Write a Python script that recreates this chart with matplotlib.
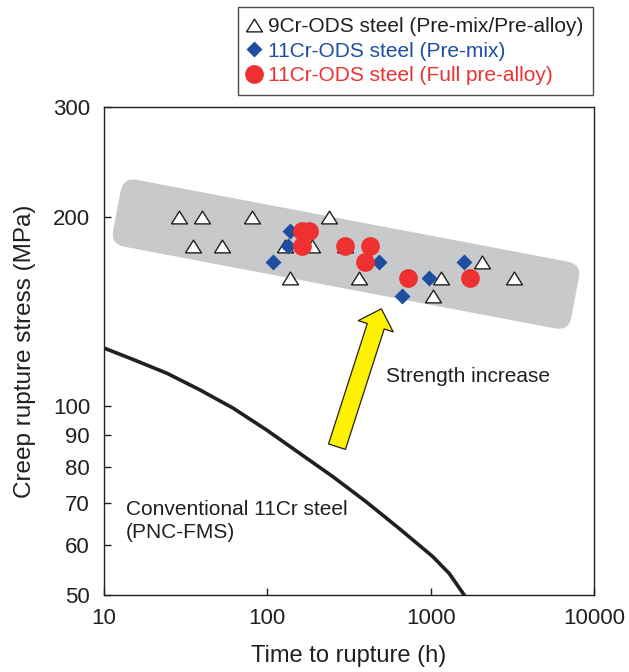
import numpy as np
import matplotlib.pyplot as plt
from matplotlib.patches import FancyBboxPatch
from matplotlib.transforms import Affine2D
from matplotlib.ticker import FixedLocator, FixedFormatter, NullLocator

plt.rcParams['font.family'] = ['Liberation Sans', 'DejaVu Sans']

# 9Cr-ODS steel (pre-mix / pre-alloy)
cr9_time = [28.7, 40, 80, 237, 35, 52.6, 128, 187, 301, 137, 366, 1160, 1040, 2065, 3245]
cr9_stress = [200, 200, 200, 200, 180, 180, 180, 180, 180, 160, 160, 160, 150, 170, 160]

# 11Cr-ODS steel (pre-mix)
cr11_mix_time = [137, 133, 108, 485, 671, 980, 1603]
cr11_mix_stress = [190, 180, 170, 170, 150, 160, 170]

# 11Cr-ODS steel (full pre-alloy)
cr11_full_time = [162, 179, 164, 301, 428, 398, 729, 1745]
cr11_full_stress = [190, 190, 180, 180, 180, 170, 160, 160]

# conventional 11Cr steel (PNC-FMS) curve
fms_time = [10, 15.1, 24.2, 38.6, 61.7, 98.6, 157, 252, 403, 643, 1028, 1300, 1604]
fms_stress = [123.8, 118.7, 112.9, 106.2, 99.3, 91.7, 84.2, 77.2, 70.4, 63.8, 57.6, 54.1, 50]

# grey band end points (time, stress) at the middle of each short side
band_time = [12.0, 7660]
band_stress = [205, 149]

yticks = [50, 60, 70, 80, 90, 100, 200, 300]
xticks = [10, 100, 1000, 10000]

fig = plt.figure(figsize=(6.29, 6.72), dpi=100)
ax = fig.add_axes([104/629, 1 - 595/672, 490/629, 488/672])
ax.set_xscale('log')
ax.set_yscale('log')
ax.set_xlim(10, 10000)
ax.set_ylim(50, 300)

ax.xaxis.set_major_locator(FixedLocator(xticks))
ax.xaxis.set_major_formatter(FixedFormatter([str(t) for t in xticks]))
ax.xaxis.set_minor_locator(NullLocator())
ax.yaxis.set_major_locator(FixedLocator(yticks))
ax.yaxis.set_major_formatter(FixedFormatter([str(t) for t in yticks]))
ax.yaxis.set_minor_locator(NullLocator())
ax.tick_params(direction='in', length=5, width=1, labelsize=16, colors='#231f20')
ax.tick_params(axis='y', pad=10)
ax.tick_params(axis='x', pad=9)
for s in ax.spines.values():
    s.set_linewidth(1.0)
    s.set_color('#231f20')

# grey band (rounded, rotated rectangle built in pixel space)
p0 = ax.transData.transform((band_time[0], band_stress[0]))
p1 = ax.transData.transform((band_time[1], band_stress[1]))
c = (p0 + p1) / 2
L = np.hypot(*(p1 - p0))
H = 68
ang = np.degrees(np.arctan2(p1[1] - p0[1], p1[0] - p0[0]))
band = FancyBboxPatch((c[0] - L/2, c[1] - H/2), L, H,
                      boxstyle="round,pad=0,rounding_size=14",
                      transform=Affine2D().rotate_deg_around(c[0], c[1], ang),
                      facecolor='#c8c9cb', edgecolor='none', zorder=0.5)
ax.add_artist(band)

ax.plot(fms_time, fms_stress, color='#231f20', lw=2.6, zorder=2)

tri = [(-1, -0.8), (1, -0.8), (0, 0.8), (-1, -0.8)]
h1, = ax.plot(cr9_time, cr9_stress, ls='none', marker=tri, ms=11.5,
              mfc='white', mec='#231f20', mew=1.0, zorder=3,
              label='9Cr-ODS steel (Pre-mix/Pre-alloy)')
h2, = ax.plot(cr11_mix_time, cr11_mix_stress, ls='none', marker='D', ms=7.8,
              mfc='#1f4ea1', mec='none', zorder=4,
              label='11Cr-ODS steel (Pre-mix)')
h3, = ax.plot(cr11_full_time, cr11_full_stress, ls='none', marker='o', ms=13.5,
              mfc='#ee3030', mec='none', zorder=5,
              label='11Cr-ODS steel (Full pre-alloy)')

ax.annotate('', xy=(499, 143), xytext=(267, 86.2),
            arrowprops=dict(arrowstyle='simple,head_length=0.66,head_width=1.32,tail_width=0.64',
                            mutation_scale=20, fc='#fff200', ec='#231f20', lw=0.9,
                            shrinkA=0, shrinkB=0), zorder=6)

ax.text(536, 109.3, 'Strength increase', fontsize=15, color='#231f20', va='baseline')
ax.text(13.6, 61.7, 'Conventional 11Cr steel\n(PNC-FMS)', fontsize=15,
        color='#231f20', va='baseline', linespacing=1.25)

ax.set_xlabel('Time to rupture (h)', fontsize=17, color='#231f20', labelpad=12)
ax.set_ylabel('Creep rupture stress (MPa)', fontsize=17.5, color='#231f20', labelpad=12)

leg = fig.legend(handles=[h1, h2, h3], loc='upper left',
                 bbox_to_anchor=(238/629, 1 - 7/672), fontsize=15,
                 frameon=True, fancybox=False, numpoints=1,
                 handlelength=0.5, handletextpad=0.42, labelspacing=0.25,
                 borderpad=0.5, borderaxespad=0)
leg.get_frame().set_edgecolor('#231f20')
leg.get_frame().set_linewidth(1.0)
for t, col in zip(leg.get_texts(), ['#231f20', '#1f4ea1', '#ee3030']):
    t.set_color(col)

fig.savefig('out.png', dpi=100)
